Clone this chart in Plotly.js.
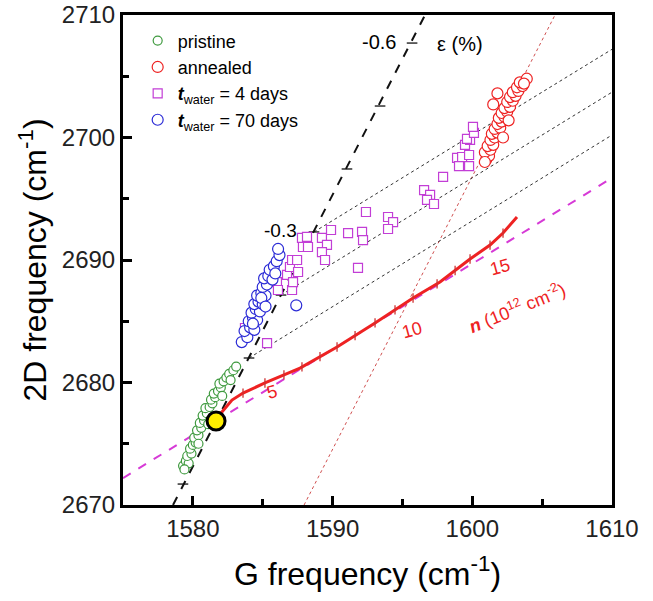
<!DOCTYPE html>
<html><head><meta charset="utf-8">
<script src="https://cdn.plot.ly/plotly-3.0.1.min.js"></script>
<style>html,body{margin:0;padding:0;background:#fff}#c{width:653px;height:601px}</style>
</head><body><div id="c"></div>
<script>
// ---- data ----
const pristineG  = [1579.3,1579.5,1579.7,1579.6,1579.9,1579.8,1580.0,1580.2,1580.1,1580.4,1580.3,1580.6,1580.5,1580.8,1580.7,1581.0,1580.9,1581.2,1581.4,1581.3,1581.6,1581.5,1581.8,1582.0,1581.9,1582.2,1582.4,1582.6,1582.9,1583.1,1582.7,1581.1,1580.4,1582.1,1579.4];
const pristine2D = [2673.2,2673.6,2673.4,2674.0,2674.2,2674.6,2674.9,2675.1,2675.5,2675.7,2676.1,2676.3,2676.7,2676.9,2677.3,2677.5,2677.9,2678.0,2678.3,2678.6,2678.8,2679.1,2679.3,2679.6,2679.9,2680.1,2680.4,2680.7,2681.0,2681.3,2680.2,2676.6,2675.0,2678.9,2672.9];

const annealedG  = [1601.0,1601.2,1600.9,1601.3,1601.1,1601.5,1601.3,1601.6,1601.4,1601.8,1601.6,1602.0,1601.8,1602.1,1601.9,1602.3,1602.1,1602.5,1602.3,1602.7,1602.5,1602.9,1602.7,1603.1,1602.9,1603.3,1603.2,1603.6,1603.4,1603.9,1603.7,1601.8,1601.5,1600.9,1602.2,1602.6];
const annealed2D = [2698.2,2698.5,2698.8,2699.0,2699.3,2699.4,2699.8,2700.0,2700.3,2700.4,2700.7,2700.8,2701.1,2701.3,2701.6,2701.7,2702.0,2702.1,2702.4,2702.5,2702.9,2703.0,2703.3,2703.4,2703.7,2703.8,2704.1,2704.2,2704.5,2704.8,2704.4,2703.6,2702.7,2698.0,2700.0,2701.4];

const water4G  = [1583.73,1585.31,1586.02,1586.09,1586.74,1586.95,1587.10,1587.10,1587.17,1587.46,1587.53,1587.81,1587.88,1588.17,1588.24,1589.24,1589.60,1589.24,1589.46,1589.89,1591.11,1592.11,1592.18,1591.82,1592.39,1593.97,1594.33,1593.97,1596.55,1596.98,1596.76,1597.26,1597.91,1598.91,1599.05,1599.27,1599.77,1599.77,1599.48,1599.84,1599.62,1600.12,1600.05];
const water42D = [2684.45,2683.22,2688.20,2687.55,2688.78,2689.43,2690.00,2687.55,2688.20,2690.00,2689.02,2691.80,2691.06,2691.88,2691.06,2691.80,2691.23,2690.65,2690.00,2692.45,2692.20,2692.29,2691.63,2689.35,2693.92,2693.51,2693.10,2692.53,2695.71,2695.31,2694.90,2694.57,2696.78,2698.33,2697.67,2698.41,2698.57,2697.67,2699.39,2699.80,2699.88,2700.37,2700.86];

const water70G  = [1583.5,1583.9,1583.7,1584.1,1584.4,1584.0,1584.3,1584.6,1584.2,1584.5,1584.8,1584.4,1584.7,1585.0,1584.6,1584.9,1585.2,1585.0,1585.3,1585.1,1585.4,1585.7,1585.5,1585.8,1586.0,1586.2,1586.1,1585.9,1584.9,1585.2,1584.3,1587.4];
const water702D = [2683.3,2683.7,2684.2,2684.5,2684.3,2685.0,2685.3,2685.1,2685.7,2686.0,2685.8,2686.4,2686.6,2686.4,2687.1,2687.3,2687.1,2687.8,2688.0,2688.5,2688.7,2688.4,2689.2,2689.5,2689.9,2690.4,2690.9,2688.9,2686.9,2686.2,2684.8,2686.3];

// intrinsic (undoped, unstrained) point
const intrinsicG = [1581.66];
const intrinsic2D = [2676.86];

// strain line (black dashed) and strain ticks (epsilon, %)
const strainLineG  = [1578.58, 1596.62];
const strainLine2D = [2670, 2710];
const strainVals = [0.1, 0, -0.1, -0.2, -0.3, -0.4, -0.5, -0.6];
const strainG  = [1579.29,1581.66,1584.02,1586.31,1588.67,1591.03,1593.40,1595.69];
const strain2D = [2671.71,2676.86,2682.00,2687.14,2692.29,2697.43,2702.57,2707.71];

// annealed strain line (red dotted)
const annStrainG  = [1587.96, 1605.92];
const annStrain2D = [2670, 2710];

// hole-doping line (magenta dashed)
const dopLineG  = [1575, 1610];
const dopLine2D = [2672.2, 2696.7];

// iso-strain dotted lines (start at strain -0.1, -0.2, -0.3)
const isoStartG  = [1584.02, 1586.31, 1588.67];
const isoStart2D = [2682.00, 2687.14, 2692.29];
const isoEndG    = [1610, 1610, 1610];
const isoEnd2D   = [2700.2, 2703.7, 2707.2];

// doping curve n (10^12 cm^-2) (red solid)
const dopCurveG  = [1582.02,1582.80,1583.59,1585.16,1587.67,1590.32,1593.04,1595.76,1597.69,1599.84,1601.27,1602.20,1603.20];
const dopCurve2D = [2677.51,2678.57,2679.14,2679.96,2681.18,2682.90,2684.86,2686.90,2688.20,2690.08,2691.22,2692.20,2693.51];
const dopTickG = [1583.59,1585.16,1586.52,1587.81,1589.10,1590.32,1591.61,1593.04,1594.47,1595.76,1597.48,1598.77,1599.84,1601.27,1602.20];

// ---- helpers ----
function interp(x, xs, ys){
  for(let i=0;i<xs.length-1;i++){
    if(x>=xs[i] && x<=xs[i+1]){ const t=(x-xs[i])/(xs[i+1]-xs[i]); return ys[i]+t*(ys[i+1]-ys[i]); }
  }
  return ys[ys.length-1];
}
const stX=[], stY=[];
strainG.forEach((g,i)=>{ stX.push(g-0.38,g+0.38,null); stY.push(strain2D[i],strain2D[i],null); });
const isoX=[], isoY=[];
isoStartG.forEach((g,i)=>{ isoX.push(g,isoEndG[i],null); isoY.push(isoStart2D[i],isoEnd2D[i],null); });
const dtX=[], dtY=[];
dopTickG.forEach(g=>{ const y=interp(g,dopCurveG,dopCurve2D); dtX.push(g,g,null); dtY.push(y-0.38,y+0.38,null); });

const RED='#ee2222', GREEN='#3f9a3f', BLUE='#2b2bd6', MAG='#c23ed6';
const traces = [
  {x:dopLineG, y:dopLine2D, mode:'lines', line:{color:'#d63ad6', width:2, dash:'dash'}, showlegend:false, hoverinfo:'skip'},
  {x:annStrainG, y:annStrain2D, mode:'lines', line:{color:'#d05050', width:1, dash:'dot'}, showlegend:false, hoverinfo:'skip'},
  {x:isoX, y:isoY, mode:'lines', line:{color:'#333', width:1, dash:'dot'}, showlegend:false, hoverinfo:'skip'},
  {x:strainLineG, y:strainLine2D, mode:'lines', line:{color:'#111', width:2, dash:'dash'}, showlegend:false, hoverinfo:'skip'},
  {x:stX, y:stY, mode:'lines', line:{color:'#111', width:1.3}, showlegend:false, hoverinfo:'skip'},
  {x:pristineG, y:pristine2D, mode:'markers', name:'pristine', marker:{symbol:'circle', size:9, color:'white', line:{color:GREEN, width:1.2}}},
  {x:annealedG, y:annealed2D, mode:'markers', name:'annealed', marker:{symbol:'circle', size:11, color:'white', line:{color:RED, width:1.2}}},
  {x:water4G, y:water42D, mode:'markers', name:'<b><i>t</i></b><sub>water</sub> = 4 days', marker:{symbol:'square', size:9, color:'white', line:{color:MAG, width:1.2}}},
  {x:water70G, y:water702D, mode:'markers', name:'<b><i>t</i></b><sub>water</sub> = 70 days', marker:{symbol:'circle', size:11, color:'white', line:{color:BLUE, width:1.2}}},
  {x:dopCurveG, y:dopCurve2D, mode:'lines', line:{color:RED, width:3}, showlegend:false, hoverinfo:'skip'},
  {x:dtX, y:dtY, mode:'lines', line:{color:'#cc3333', width:1.3}, showlegend:false, hoverinfo:'skip'},
  {x:intrinsicG, y:intrinsic2D, mode:'markers', marker:{size:18, color:'#ffee00', line:{color:'#000', width:3}}, showlegend:false, hoverinfo:'skip'}
];

const F='Arial, "Liberation Sans", sans-serif';
const ann = (x,y,t,c,s,rot)=>({x:x,y:y,xref:'x',yref:'y',text:t,showarrow:false,font:{family:F,size:s,color:c},textangle:rot||0});
const layout = {
  width:653, height:601,
  margin:{l:123, r:41, t:15, b:96},
  paper_bgcolor:'#fff', plot_bgcolor:'#fff',
  font:{family:F, color:'#000'},
  xaxis:{range:[1575,1610], dtick:10, tick0:1580, ticks:'inside', ticklen:9, tickwidth:3, tickcolor:'#000',
    minor:{dtick:5, ticks:'inside', ticklen:6, tickwidth:3, tickcolor:'#000'},
    showline:true, linewidth:3, linecolor:'#000', mirror:true, showgrid:false, zeroline:false,
    tickfont:{size:24, color:'#222', family:F},
    title:{text:'G frequency (cm<sup>-1</sup>)', font:{size:32, color:'#000', family:F}, standoff:22}},
  yaxis:{range:[2670,2710], dtick:10, ticks:'inside', ticklen:9, tickwidth:3, tickcolor:'#000',
    minor:{dtick:5, ticks:'inside', ticklen:6, tickwidth:3, tickcolor:'#000'},
    showline:true, linewidth:3, linecolor:'#000', mirror:true, showgrid:false, zeroline:false,
    tickfont:{size:24, color:'#222', family:F},
    title:{text:'2D frequency (cm<sup>-1</sup>)', font:{size:32, color:'#000', family:F}, standoff:6}},
  legend:{x:0.03, y:0.985, xanchor:'left', yanchor:'top', bgcolor:'rgba(0,0,0,0)', font:{size:18, family:F, color:'#000'}, itemwidth:30, tracegroupgap:0},
  showlegend:true,
  annotations:[
    ann(1593.30,2707.8,'-0.6','#000',20),
    ann(1599.10,2707.6,'ε (%)','#000',20),
    ann(1586.30,2692.4,'-0.3','#000',19),
    ann(1585.67,2679.22,'5',RED,18,-15),
    ann(1595.69,2684.29,'10',RED,18,-15),
    ann(1601.99,2689.43,'15',RED,18,-15),
    ann(1603.2,2686.1,'<b><i>n</i></b> (10<sup>12</sup> cm<sup>-2</sup>)',RED,18,-22)
  ]
};
Plotly.newPlot('c', traces, layout, {displayModeBar:false, staticPlot:true});
</script></body></html>
